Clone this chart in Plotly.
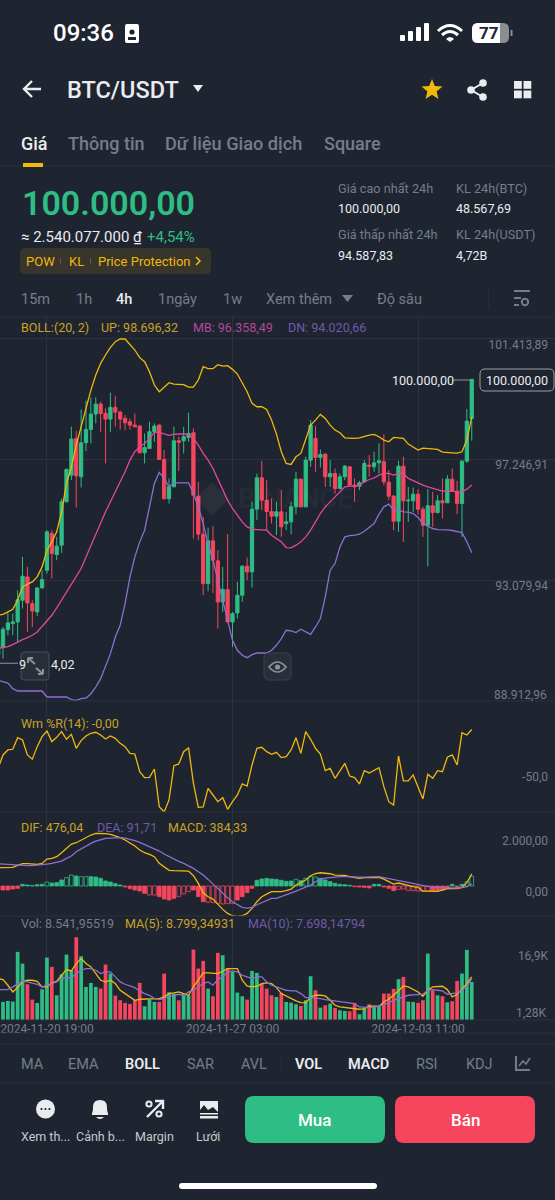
import numpy as np, pandas as pd
import plotly.graph_objects as go

BG = "#1e2530"
GRID = "#2b323c"
GREEN = "#2ebd85"
RED = "#f6465d"
YELLOW = "#f0b90b"
PINK = "#e0479e"
PURPLE = "#8e6fd0"
WHITE = "#eaecef"
GRAY = "#848e9c"
DIM = "#757d89"

# candles, one per 4h, the first one sits just off the left edge
times = pd.date_range("2024-11-19 03:00", periods=98, freq="4h")
opens = [90500,90775,91373,91580,91638,92385,93190,92270,91983,92810,93420,94685,93960,94283,95778,96698,97963,96640,97813,98273,98802,99147,98825,98630,99032,98871,98653,98538,98423,98388,97468,97618,98193,98423,97238,95881,96295,97882,97882,97997,98158,95973,94662,92960,94432,93742,92328,92753,91638,91948,92558,93558,93363,95525,96605,95835,95444,95283,95433,95030,95088,95605,96560,95605,97215,97963,97307,97422,96640,96755,96238,96640,96985,96352,96318,96468,97043,96985,97123,97158,96456,95973,95110,97008,95812,95812,96042,95525,94973,95640,95410,95812,95743,96560,96145,95720,97180,98653]
closes = [90900,91385,91603,91638,92408,93213,92293,92017,92810,93098,94743,93995,94248,95778,96893,97940,96675,97813,98273,98802,99147,98825,98630,99032,98871,98630,98503,98423,98365,97468,97652,98193,98388,97238,95881,96295,97882,97825,98020,98135,96008,94662,92960,94432,93765,92328,92753,91638,91925,92558,93558,93363,95525,96605,95835,95444,95283,95433,94915,95088,95605,96560,95605,97215,98423,97307,97410,96640,96755,96238,96640,97008,96352,96295,96433,97100,97008,97123,97192,96468,95973,95110,97008,95812,95835,96042,95525,94973,95640,95410,95812,95743,96560,96145,95720,97180,98560,100000]
highs = [91000,91465,91948,91925,92730,93880,93535,92385,92845,93420,94800,94800,94570,95893,96928,98365,98227,98963,99262,99377,99377,99228,98998,99538,99423,98917,98768,98653,98825,98423,98135,98538,98480,98445,97560,96583,98365,98020,98365,98848,98308,96468,95260,94892,94938,94110,93535,94662,91983,93018,93593,93857,95778,96755,97192,96525,95893,95778,96180,95433,95778,96813,96583,97330,98595,98388,97583,97445,97215,96928,96755,97043,97008,96583,96502,97215,97388,97503,97790,98112,96870,96008,97192,97330,96295,96272,96203,95605,96215,96123,96008,96583,96698,96928,96502,97215,98975,100000]
lows = [90300,90373,91178,91178,90948,92098,91293,91465,91833,92788,93305,93133,93765,94018,95778,96525,95582,96272,97525,97790,98480,98193,97100,98193,98365,98273,98250,98273,98365,97468,97100,97618,97848,97238,95881,95720,96295,96847,97445,97848,94513,94455,92558,92695,92638,91408,91983,91638,90775,91753,92328,93075,92822,95145,95490,94800,95030,94628,94570,94800,94662,95352,95605,95605,96985,96813,96962,96295,96295,96065,96215,96525,96318,95778,96180,96433,96640,96813,96755,96352,95835,94800,94743,94398,95088,95433,95352,94570,93558,94915,95375,95203,95743,96123,95352,94570,97123,97882]

boll_up = [91868,91902,91983,92075,92385,92845,92937,93018,93190,93535,94110,94398,94743,95433,96410,96985,97733,98365,98998,99630,100148,100550,100838,101102,101298,101390,101390,101206,101010,100746,100608,100263,99803,99573,99745,99883,99837,99837,99814,99734,99734,99975,100435,100366,100366,100504,100458,100470,100343,100182,99883,99573,99170,99055,99055,98963,98595,98112,97503,97100,97066,97330,97445,97905,98423,98595,98791,98653,98423,98250,98158,97985,97963,97963,97985,98043,98078,98101,98020,97905,97848,97997,97985,97963,97767,97675,97560,97629,97606,97606,97583,97491,97491,97468,97457,97503,97905,98696]
boll_mb = [90729,90752,90787,90856,90948,91028,91097,91178,91293,91488,91695,91868,92121,92385,92673,92903,93190,93478,93880,94283,94662,95030,95433,95778,96123,96468,96813,97215,97503,97675,97790,97963,98170,98170,98112,98066,98101,98124,98124,98089,97963,97733,97445,97215,96928,96560,96180,95835,95548,95318,95088,94915,94835,94823,94823,94800,94628,94513,94398,94202,94191,94283,94398,94570,94800,95088,95375,95605,95778,95950,96123,96295,96318,96318,96352,96468,96548,96605,96698,96755,96755,96698,96755,96755,96583,96502,96433,96352,96295,96238,96180,96145,96145,96145,96111,96123,96215,96358]
boll_dn = [89625,89590,89533,89338,89257,89257,89257,89257,89257,89257,89050,89050,89073,89062,89050,88958,88935,88993,89016,89165,89395,89683,90085,90545,91120,91523,92270,93190,93880,94398,94800,95605,96410,96790,96583,96295,96433,96433,96433,96433,96065,95605,95030,94340,93765,93075,92385,91695,91005,90660,90488,90407,90510,90568,90568,90568,90660,90833,91063,91350,91327,91270,91385,91293,91212,91465,91753,92500,93420,93650,94225,94570,94616,94628,94662,94766,94915,95030,95352,95605,95697,95490,95490,95433,95421,95375,95237,95030,94938,94858,94823,94823,94812,94789,94766,94720,94398,94020]

wm_r = [-47.1,-30.9,-24.8,-24.0,-9.9,-12.7,-30.9,-36.1,-20.8,-8.7,-1.8,-14.7,-9.5,-2.6,-11.9,-5.9,-22.8,-13.5,-7.9,-4.6,-3.4,-6.7,-11.5,-7.9,-10.7,-16.8,-20.8,-28.9,-29.7,-51.1,-58.4,-58.0,-47.9,-93.5,-100,-85.4,-43.8,-41.8,-26.9,-22.0,-65.2,-94.3,-93.9,-71.3,-79.4,-87.5,-82.6,-96.8,-87.5,-79.4,-66.0,-68.5,-43.0,-22.8,-21.6,-26.9,-30.1,-27.7,-34.1,-32.9,-24.8,-9.9,-28.9,-2.6,-11.9,-22.8,-29.7,-49.9,-47.1,-59.2,-50.3,-41.0,-56.4,-58.4,-66.0,-49.9,-52.7,-49.1,-46.2,-69.3,-87.5,-91.5,-32.1,-62.4,-62.4,-55.1,-70.1,-84.2,-54.3,-59.2,-49.9,-51.1,-33.7,-30.9,-43.0,-3.8,-6.7,-0.0]

dif = [717,717,717,730,808,874,874,848,848,887,1057,1083,1148,1305,1475,1645,1697,1802,1906,1998,2063,2063,2050,2024,1971,1893,1802,1697,1566,1410,1305,1240,1148,887,756,612,599,586,586,586,403,102,-263,-420,-512,-721,-917,-1074,-1165,-1191,-1165,-1074,-878,-616,-420,-316,-224,-224,-224,-185,-120,37,142,233,403,481,520,508,481,429,429,416,364,325,299,325,338,338,338,272,168,76,116,63,11,-28,-54,-198,-198,-211,-211,-159,-106,-106,-106,-54,129,476]
dea = [874,861,821,808,795,795,795,795,808,834,861,887,926,978,1083,1174,1344,1462,1579,1671,1762,1815,1867,1880,1893,1893,1880,1841,1776,1710,1632,1553,1475,1370,1253,1148,1044,965,887,795,691,560,429,259,76,-106,-290,-459,-616,-734,-839,-865,-839,-734,-642,-564,-486,-486,-420,-355,-290,-198,-120,-54,37,168,259,312,338,351,364,364,351,351,351,351,364,364,364,325,286,233,194,155,116,76,37,0,-41,-54,-54,-67,-80,-80,-80,-67,-28,92]
macd_hist = [-157,-157,-157,-118,-91,65,39,13,52,65,157,118,131,235,327,431,392,366,366,366,353,301,196,157,91,39,-39,-105,-157,-196,-288,-353,-353,-418,-510,-549,-484,-418,-314,-222,-157,-418,-614,-640,-653,-680,-706,-693,-680,-549,-418,-261,-91,222,274,301,274,261,222,183,196,261,209,301,366,353,301,235,170,105,65,52,26,-26,-39,-52,-78,65,65,-39,-91,-183,-131,-118,-170,-183,-196,-209,-209,-196,-170,-157,-105,65,-65,65,170,384]
# bars drawn as outlines in the app (positions in the arrays above)
macd_hollow = [10,14,15,17,18,31,32,37,38,39,43,44,45,46,47,48,61,63,64,65,82,83,84,85,86,87,88,96,97]

volume = [5582,5205,5431,5280,16515,13876,9201,5733,4979,8070,15233,13122,6713,11463,15912,12368,19833,15535,8598,9503,8598,8221,13650,11614,6638,5582,4979,4753,5582,9503,4225,5733,5205,5205,11614,7392,7090,5582,6940,6713,17043,12745,14479,8221,6487,16289,15761,12896,11991,7316,6487,5733,12217,11765,9352,8221,6713,6336,7241,5205,5054,4677,4300,5582,11011,7844,3923,4451,4828,3848,3320,3169,3094,4979,2415,3697,4677,4074,4225,7090,7090,8146,10333,10860,5280,5205,4979,5582,16138,7844,6713,6487,5129,5356,9955,11614,16967,9729]
vol_ma5 = [10483,10257,8975,7467,8447,9729,10106,10106,9880,8598,8598,9503,9880,11237,12519,12218,13876,15007,13876,13122,11614,10106,9729,10106,9352,7844,7090,6336,5582,5808,5808,5959,5959,5959,6336,7090,7241,7467,7090,6713,8598,10106,11765,11765,11765,11614,12142,12745,12745,12745,10106,8749,8598,8749,9352,9503,9352,8447,7090,6487,5959,5431,5054,4979,6336,6713,6713,6562,5582,4451,4074,3923,3697,3622,3546,3697,4225,4225,4225,5205,5808,6713,7844,8824,8598,8070,7467,6487,7844,8598,8749,8749,7995,6336,6864,7995,9352,10860]
vol_ma10 = [7995,7995,7995,8598,9201,9880,9729,9503,9201,8598,8975,9352,9729,10483,10709,10709,11463,12368,12745,12745,12368,11614,11991,11991,10860,9729,9201,8824,8447,7693,7090,6713,5959,5733,5959,6487,6713,6940,6713,7467,7844,8598,9352,9729,8975,10257,10860,11991,12217,11991,11237,10860,10483,10860,10860,9729,8975,8598,8221,7844,7693,7693,7090,6185,6185,6110,5959,5733,5582,5431,5205,5054,4903,4828,4074,3923,3923,4074,4225,4677,4979,5582,5959,6487,6713,6788,6864,6940,7844,7995,7844,7693,6940,7090,7241,7844,8749,10483]

price_ticks = [101413.89, 97246.91, 93079.94]
price_ticktext = ["101.413,89", "97.246,91", "93.079,94"]
time_ticks = ["2024-11-20 19:00", "2024-11-27 03:00", "2024-12-03 11:00"]

bar_colors = [GREEN if c > o else RED for o, c in zip(opens, closes)]
hist_colors = [GREEN if v > 0 else RED for v in macd_hist]
hist_fill = [BG if i in macd_hollow else c for i, c in enumerate(hist_colors)]

fig = go.Figure()

def line(y, color, yaxis, width=1.3):
    fig.add_trace(go.Scatter(x=times, y=y, mode="lines", yaxis=yaxis, hoverinfo="skip", line=dict(color=color, width=width)))

fig.add_trace(go.Candlestick(x=times, open=opens, high=highs, low=lows, close=closes, yaxis="y",
                             increasing=dict(line=dict(color=GREEN, width=1), fillcolor=GREEN),
                             decreasing=dict(line=dict(color=RED, width=1), fillcolor=RED),
                             whiskerwidth=0))
line(boll_up, YELLOW, "y")
line(boll_mb, PINK, "y")
line(boll_dn, PURPLE, "y")
line(wm_r, YELLOW, "y2")
fig.add_trace(go.Bar(x=times, y=macd_hist, yaxis="y3", marker=dict(color=hist_fill, line=dict(color=hist_colors, width=0.8))))
line(dif, YELLOW, "y3")
line(dea, PURPLE, "y3")
fig.add_trace(go.Bar(x=times, y=volume, yaxis="y4", marker=dict(color=bar_colors, line=dict(width=0))))
line(vol_ma5, YELLOW, "y4")
line(vol_ma10, PURPLE, "y4")
# pixel layer for the app chrome around the chart
fig.add_trace(go.Scatter(x=[0], y=[0], xaxis="x9", yaxis="y9", mode="markers", marker=dict(opacity=0), hoverinfo="skip"))

shapes, notes = [], []

def text(x, y, s, size=12, color=GRAY, anchor="left", weight=400):
    notes.append(dict(x=x, y=y, xref="x9", yref="y9", text=s, showarrow=False, xanchor=anchor, yanchor="middle",
                      borderpad=0, font=dict(family="Roboto", size=size, color=color, weight=weight)))

def rect(x0, y0, x1, y1, fill):
    shapes.append(dict(type="rect", xref="x9", yref="y9", x0=x0, y0=y0, x1=x1, y1=y1, fillcolor=fill, line=dict(width=0)))

def circle(cx, cy, r, fill=None, stroke=None, w=1.5):
    shapes.append(dict(type="circle", xref="x9", yref="y9", x0=cx - r, y0=cy - r, x1=cx + r, y1=cy + r,
                       fillcolor=fill or "rgba(0,0,0,0)", line=dict(color=stroke, width=w if stroke else 0)))

def path(d, fill=None, stroke=None, w=1.5):
    shapes.append(dict(type="path", xref="x9", yref="y9", path=d, fillcolor=fill or "rgba(0,0,0,0)",
                       line=dict(color=stroke, width=w if stroke else 0)))

def rrect(x0, y0, x1, y1, r, fill=None, stroke=None, w=1):
    d = (f"M {x0+r} {y0} L {x1-r} {y0} Q {x1} {y0} {x1} {y0+r} L {x1} {y1-r} Q {x1} {y1} {x1-r} {y1} "
         f"L {x0+r} {y1} Q {x0} {y1} {x0} {y1-r} L {x0} {y0+r} Q {x0} {y0} {x0+r} {y0} Z")
    path(d, fill, stroke, w)

# panel separators
for yy in [166, 317, 701, 812, 916, 1020, 1033, 1044, 1083]:
    rect(0, yy - 0.5, 555, yy + 0.5, GRID)

# status bar
text(52, 33, "09:36", 24, "#ffffff", weight=500)
rrect(125, 24, 139, 43, 2, "#ffffff")
circle(132, 32, 2.6, BG)
rect(128, 37, 136, 40, BG)
for x0, h in zip([400, 408, 416, 424], [6, 10, 14, 18]):
    rrect(x0, 41 - h, x0 + 5, 41, 1, "#ffffff")
path("M 438 31 Q 450 20 462 31", None, "#ffffff", 3)
path("M 442 35 Q 450 28 458 35", None, "#ffffff", 3)
path("M 446 39 L 450 42 L 454 39 Q 450 35 446 39 Z", "#ffffff")
rrect(472, 23, 509, 43, 6, "#8b8d90")
path("M 478 23 L 500 23 L 500 43 L 478 43 Q 472 43 472 37 L 472 29 Q 472 23 478 23 Z", "#ffffff")
rect(510.5, 30, 512.5, 36, "#8b8d90")
text(489, 33, "77", 17, "#1e2530", "center", 700)

# header
path("M 41 89 L 25 89 M 32 81 L 24 89 L 32 97", None, WHITE, 2.4)
text(66, 90, "BTC/USDT", 23.5, WHITE, weight=500)
path("M 193 85 L 203 85 L 198 92 Z", WHITE)
angles = np.linspace(-np.pi / 2, 1.5 * np.pi, 11)[:-1]
radii = [11, 4.8] * 5
star = [(432 + r * np.cos(a), 90 + r * np.sin(a)) for r, a in zip(radii, angles)]
path("M " + " L ".join(f"{x:.1f} {y:.1f}" for x, y in star) + " Z", YELLOW)
path("M 483 83 L 471 90 L 483 97", None, WHITE, 2)
circle(483, 83, 3.8, WHITE)
circle(471, 90, 3.8, WHITE)
circle(483, 97, 3.8, WHITE)
for x0 in [514, 523.5]:
    for y0 in [81, 90.5]:
        rect(x0, y0, x0 + 7.8, y0 + 7.8, WHITE)

# tabs
text(19.5, 143, "Giá", 18, WHITE, weight=500)
text(66.5, 143, "Thông tin", 18, DIM, weight=500)
text(163.5, 143, "Dữ liệu Giao dịch", 18.2, DIM, weight=500)
text(322.5, 143, "Square", 18, DIM, weight=500)
rect(23, 163, 43, 167, YELLOW)

# price block
text(21, 203, "100.000,00", 34, GREEN, weight=600)
text(19.5, 237, "≈ 2.540.077.000 ₫", 15, WHITE)
text(146, 237, "+4,54%", 15, GREEN)
rrect(20, 248, 211, 274, 5, "#37352c")
text(25, 261, "POW", 13, YELLOW)
text(68, 261, "KL", 13, YELLOW)
text(97, 261, "Price Protection", 13, YELLOW)
path("M 196 257 L 200 261 L 196 265", None, YELLOW, 1.5)
rect(60, 258, 60.8, 264, "#6b6245")
rect(90, 258, 90.8, 264, "#6b6245")
text(337, 188, "Giá cao nhất 24h", 12.7, DIM)
text(337, 208, "100.000,00", 12.5, WHITE)
text(337, 234, "Giá thấp nhất 24h", 12.7, DIM)
text(337, 255, "94.587,83", 12.5, WHITE)
text(455, 188, "KL 24h(BTC)", 12.7, DIM)
text(455, 208, "48.567,69", 12.5, WHITE)
text(455, 234, "KL 24h(USDT)", 12.7, DIM)
text(455, 255, "4,72B", 12.5, WHITE)

# timeframes
for x, s, c in [(20, "15m", DIM), (74.5, "1h", DIM), (114.5, "4h", WHITE), (156.5, "1ngày", DIM), (221.5, "1w", DIM), (265, "Xem thêm", DIM), (376, "Độ sâu", DIM)]:
    text(x, 299, s, 14.5, c, weight=500 if c == WHITE else 400)
path("M 342 295 L 353 295 L 347.5 302 Z", DIM)
rect(488, 290, 488.7, 308, GRID)
rect(514, 290, 530, 292, DIM)
rect(514, 297, 521, 299, DIM)
rect(514, 304, 519, 306, DIM)
circle(525, 302, 3.2, None, DIM, 2)

# indicator legends
text(19.5, 327, "BOLL:(20, 2)", 12.5, "#c9a227")
text(99.5, 327, "UP: 98.696,32", 12.5, "#c9a227")
text(191.5, 327, "MB: 96.358,49", 12.5, "#b5479a")
text(286.5, 327, "DN: 94.020,66", 12.5, "#6f5aa8")
text(19.5, 723, "Wm %R(14): -0,00", 12.5, "#c9a227")
text(19.5, 827, "DIF: 476,04", 12.5, "#c9a227")
text(96, 827, "DEA: 91,71", 12.5, "#6f5aa8")
text(167, 827, "MACD: 384,33", 12.5, "#c9a227")
text(19.5, 923, "Vol: 8.541,95519", 12.5, DIM)
text(124, 923, "MA(5): 8.799,34931", 12.5, "#c9a227")
text(247, 923, "MA(10): 7.698,14794", 12.5, "#6f5aa8")

# watermark
path("M 212 482 L 229 499 L 212 516 L 195 499 Z", "rgba(255,255,255,0.05)")
text(237, 499, "BINANCE", 27, "rgba(255,255,255,0.05)", weight=700)

# high and low markers
text(391, 380, "100.000,00", 12.5, WHITE)
rect(453, 379.6, 470, 380.4, "#aab0b8")
rrect(480, 369, 554, 391, 5, BG, "#9aa0a8", 1)
text(517, 380, "100.000,00", 12.5, WHITE, "center")
rect(0, 662.8, 18, 663.6, "#aab0b8")
text(18, 664, "9", 12.5, WHITE)
text(49.5, 664, "4,02", 12.5, WHITE)
rrect(21, 652, 49, 680, 3, "rgba(42,48,57,0.92)", "#4a515c", 1)
path("M 28 658 L 35 664 M 28 658 L 33 658 M 28 658 L 28 663", None, "#8b929c", 2)
path("M 43 674 L 36 668 M 43 674 L 38 674 M 43 674 L 43 669", None, "#8b929c", 2)
rrect(264, 653, 291, 680, 5, "rgba(42,48,57,0.92)", "#3a414c", 1)
path("M 269 667 Q 277.5 657 286 667 Q 277.5 677 269 667 Z", None, "#8b929c", 1.6)
circle(277.5, 667, 2.6, "#8b929c")

# lowest ticks sit on the panel floor where the axis would hide them
text(548, 695, "88.912,96", 12, DIM, "right")
text(548, 1013, "1,28K", 12, DIM, "right")

# indicator tabs
for x, s, c, wt in [(20, "MA", DIM, 400), (67, "EMA", DIM, 400), (124, "BOLL", WHITE, 600), (186, "SAR", DIM, 400), (240, "AVL", DIM, 400),
                    (294, "VOL", WHITE, 600), (347, "MACD", WHITE, 600), (415, "RSI", DIM, 400), (465, "KDJ", DIM, 400)]:
    text(x, 1064, s, 14.5, c, weight=wt)
rect(280.5, 1054, 281.2, 1073, GRID)
path("M 516 1056 L 516 1070 L 530 1070", None, DIM, 2)
path("M 519 1066 L 523 1061 L 526 1064 L 530 1058", None, DIM, 1.6)

# bottom bar
circle(45.5, 1109, 9.5, WHITE)
for dx in [-4, 0, 4]:
    circle(45.5 + dx, 1109, 1.1, BG)
path("M 92 1113 Q 93 1112 93 1107 Q 93 1100 100 1100 Q 107 1100 107 1107 Q 107 1112 108 1113 L 108 1115 L 92 1115 Z", WHITE)
path("M 96 1117 L 104 1117 Q 100 1121 96 1117 Z", WHITE)
circle(149, 1104, 2.6, None, WHITE, 2)
circle(159, 1114, 2.6, None, WHITE, 2)
path("M 147 1117 L 162 1102 M 155 1101 L 163 1101 L 163 1109", None, WHITE, 2.4)
path("M 200 1101 L 218 1101 L 218 1112 L 213 1107 L 208 1110 L 204 1105 L 200 1110 Z", WHITE)
rect(200, 1113, 218, 1114.5, WHITE)
rect(200, 1116, 218, 1118.5, WHITE)
for x, s in [(45, "Xem th..."), (100, "Cảnh b..."), (154, "Margin"), (208, "Lưới")]:
    text(x, 1136, s, 12.5, "#c5c9cf", "center")
rrect(245, 1096, 385, 1143, 9, GREEN)
rrect(395, 1096, 535, 1143, 9, RED)
text(315, 1120, "Mua", 17, "#ffffff", "center", 500)
text(465, 1120, "Bán", 17, "#ffffff", "center", 500)
rrect(179, 1183, 377, 1189, 3, "#ffffff")

fig.update_layout(
    width=555, height=1200, margin=dict(l=0, r=0, t=0, b=0), showlegend=False, dragmode=False,
    paper_bgcolor=BG, plot_bgcolor="rgba(0,0,0,0)", bargap=0.24, boxgap=0.05,
    font=dict(family="Roboto", size=12, color=DIM),
    shapes=shapes, annotations=notes,
    xaxis=dict(domain=[0, 1], anchor="y4", type="date",
               range=[times[0] + pd.Timedelta(hours=1.54), times[0] + pd.Timedelta(hours=456.2)],
               rangeslider=dict(visible=False), showgrid=True, gridcolor=GRID, gridwidth=1, zeroline=False,
               tickvals=time_ticks, tickformat="%Y-%m-%d %H:%M", tickfont=dict(size=12, color=DIM), ticks="", showline=False),
    yaxis=dict(domain=[1 - 701 / 1200, 1 - 317 / 1200], anchor="x", side="right", range=[88912.96, 102148],
               tickvals=price_ticks, ticktext=price_ticktext, ticklabelposition="inside", ticklabelshift=6, ticklabelstandoff=4,
               showgrid=True, gridcolor=GRID, zeroline=False, tickfont=dict(size=12, color=DIM)),
    yaxis2=dict(domain=[1 - 812 / 1200, 1 - 701 / 1200], anchor="x", side="right", range=[-100, 34.5],
                tickvals=[-50], ticktext=["-50,0"], ticklabelposition="inside", ticklabelshift=6, ticklabelstandoff=4,
                showgrid=False, zeroline=False, tickfont=dict(size=12, color=DIM)),
    yaxis3=dict(domain=[1 - 916 / 1200, 1 - 812 / 1200], anchor="x", side="right", range=[-1176, 2901],
                tickvals=[0, 2000], ticktext=["0,00", "2.000,00"], ticklabelposition="inside", ticklabelshift=6, ticklabelstandoff=4,
                showgrid=False, zeroline=False, tickfont=dict(size=12, color=DIM)),
    yaxis4=dict(domain=[1 - 1020 / 1200, 1 - 916 / 1200], anchor="x", side="right", range=[1122, 24626],
                tickvals=[16900], ticktext=["16,9K"], ticklabelposition="inside", ticklabelshift=6, ticklabelstandoff=4,
                showgrid=False, zeroline=False, tickfont=dict(size=12, color=DIM)),
    xaxis9=dict(domain=[0, 1], anchor="y9", range=[0, 555], visible=False, fixedrange=True),
    yaxis9=dict(domain=[0, 1], anchor="x9", range=[1200, 0], visible=False, fixedrange=True),
)

fig.write_html("out.html", config=dict(displayModeBar=False, staticPlot=True),
               post_script="document.body.style.margin='0';document.body.style.background='#1e2530';")
